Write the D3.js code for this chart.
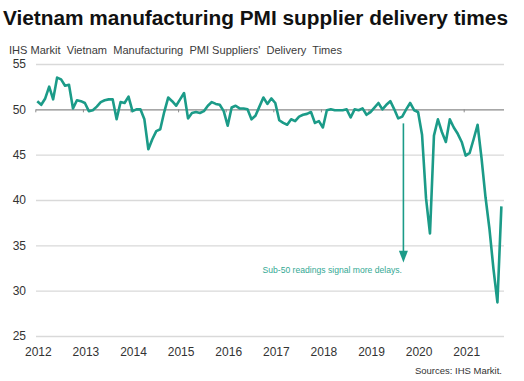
<!DOCTYPE html>
<html>
<head>
<meta charset="utf-8">
<script src="https://cdn.jsdelivr.net/npm/d3@7/dist/d3.min.js"></script>
<style>
body { margin: 0; background: #fff; }
svg { display: block; }
text { font-family: "Liberation Sans", Arial, sans-serif; }
</style>
</head>
<body>
<svg id="mysvg" width="524" height="381"></svg>
<script>

// monthly index, Jan 2012 .. Oct 2021
var values = [
	50.9, 50.5, 51.2, 52.5, 51.1, 53.5, 53.3, 52.6, 52.7, 50.1, 51.0, 50.9,
	50.7, 49.8, 49.9, 50.3, 50.8, 51.0, 51.1, 51.1, 48.9, 50.8, 50.7, 51.4,
	49.8, 50.0, 50.0, 48.9, 45.6, 46.7, 47.6, 47.8, 49.7, 51.3, 50.9, 50.4,
	51.1, 51.8, 49.0, 49.6, 49.7, 49.6, 49.8, 50.4, 50.8, 50.6, 50.5, 49.8,
	48.2, 50.2, 50.4, 50.1, 50.1, 50.0, 48.9, 49.3, 50.3, 51.3, 50.6, 51.2,
	50.7, 48.8, 48.5, 48.3, 48.9, 48.7, 49.2, 49.4, 49.5, 49.7, 48.5, 48.7,
	48.0, 49.9, 50.0, 49.9, 49.9, 49.9, 50.0, 49.1, 50.0, 49.9, 50.1, 49.4,
	49.7, 50.2, 50.7, 50.0, 50.5, 50.9, 50.0, 49.0, 49.2, 50.0, 50.7, 49.9,
	49.7, 47.2, 40.2, 36.3, 47.1, 48.9, 47.5, 46.4, 48.9, 48.0, 47.3, 46.4,
	44.9, 45.2, 46.7, 48.3, 44.6, 40.3, 36.8, 32.4, 28.7, 39.3
];
var yearLabels = ["2012", "2013", "2014", "2015", "2016", "2017", "2018", "2019", "2020", "2021"];
var yearStarts = [0, 12, 24, 36, 48, 60, 72, 84, 96, 108];
var yTicks = [25, 30, 35, 40, 45, 50, 55];

var svg = d3.select("#mysvg");
var teal = "#1b9b88";
var left = 36, right = 504;

var x = d3.scaleLinear().domain([0, 120]).range([35.3, 511.3]);
var y = d3.scaleLinear().domain([25, 55]).range([336, 64]);

svg.append("text")
	.attr("x", 3)
	.attr("y", 25)
	.attr("font-size", 20)
	.attr("font-weight", "bold")
	.attr("fill", "#111")
	.attr("textLength", 505)
	.attr("lengthAdjust", "spacingAndGlyphs")
	.text("Vietnam manufacturing PMI supplier delivery times");

svg.append("text")
	.attr("x", 9)
	.attr("y", 53.5)
	.attr("font-size", 10.5)
	.attr("fill", "#3a3a3a")
	.style("white-space", "pre")
	.attr("textLength", 333)
	.attr("lengthAdjust", "spacingAndGlyphs")
	.text("IHS Markit  Vietnam  Manufacturing  PMI Suppliers'  Delivery  Times");

// gridlines + y labels
var yAxis = svg.append("g")
	.attr("transform", "translate(" + left + ",0)")
	.call(d3.axisLeft(y).tickValues(yTicks).tickSize(-(right - left)).tickPadding(10));
yAxis.select(".domain").remove();
yAxis.selectAll(".tick line")
	.attr("stroke", function (d) { return d == 50 ? "#8a8a8a" : "#d9d9d9"; })
	.attr("stroke-width", 1.4);
yAxis.selectAll(".tick text")
	.attr("font-size", 12)
	.attr("fill", "#333")
	.style("font-family", "'Liberation Sans', Arial, sans-serif");

// small year ticks on the 50 line
var tickAxis = svg.append("g")
	.attr("transform", "translate(0," + y(50) + ")")
	.call(d3.axisBottom(x).tickValues(yearStarts).tickSize(3).tickFormat(""));
tickAxis.select(".domain").remove();
tickAxis.selectAll(".tick line").attr("stroke", "#8a8a8a").attr("stroke-width", 1);

// year labels
var xAxis = svg.append("g")
	.attr("transform", "translate(0," + y(25) + ")")
	.call(d3.axisBottom(x).tickValues(yearStarts).tickSize(0).tickPadding(11.8)
		.tickFormat(function (d, i) { return yearLabels[i]; }));
xAxis.select(".domain").remove();
xAxis.selectAll(".tick text")
	.attr("dx", 2.5)
	.attr("font-size", 12)
	.attr("fill", "#333")
	.style("font-family", "'Liberation Sans', Arial, sans-serif");

// the series
var line = d3.line()
	.x(function (d, i) { return x(i + 0.5); })
	.y(function (d) { return y(d); });

svg.append("path")
	.datum(values)
	.attr("fill", "none")
	.attr("stroke", teal)
	.attr("stroke-width", 2.6)
	.attr("stroke-linejoin", "round")
	.attr("d", line);

// annotation arrow
var ax = x(92.8);
svg.append("line")
	.attr("x1", ax).attr("x2", ax)
	.attr("y1", y(48.45)).attr("y2", y(34.0))
	.attr("stroke", teal)
	.attr("stroke-width", 1.6);
svg.append("path")
	.attr("d", "M" + (ax - 4.5) + "," + y(34.4) + " L" + (ax + 4.5) + "," + y(34.4) + " L" + ax + "," + y(33.1) + " Z")
	.attr("fill", teal);

svg.append("text")
	.attr("x", 402)
	.attr("y", 272.5)
	.attr("text-anchor", "end")
	.attr("font-size", 8.6)
	.attr("fill", "#34a994")
	.text("Sub-50 readings signal more delays.");

svg.append("text")
	.attr("x", 502)
	.attr("y", 374)
	.attr("text-anchor", "end")
	.attr("font-size", 9.5)
	.attr("fill", "#333")
	.text("Sources: IHS Markit.");

</script>
</body>
</html>
